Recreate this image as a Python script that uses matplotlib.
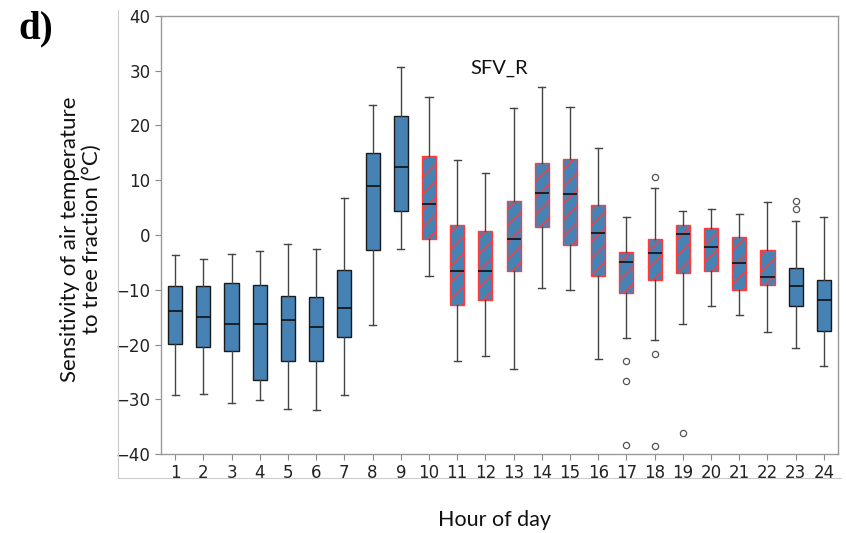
import matplotlib
matplotlib.use("Agg")
import matplotlib.pyplot as plt
from matplotlib.lines import Line2D

hours = list(range(1, 25))
q1 = [-19.9, -20.4, -21.2, -26.5, -23.1, -23.1, -18.6, -2.7, 4.4, -0.7, -12.8, -11.8,
      -6.5, 1.5, -1.8, -7.4, -10.6, -8.2, -6.9, -6.5, -10.1, -9.1, -13.0, -17.5]
med = [-13.9, -14.9, -16.2, -16.2, -15.5, -16.8, -13.4, 9.0, 12.4, 5.7, -6.6, -6.5,
       -0.7, 7.7, 7.4, 0.4, -5.0, -3.2, 0.1, -2.2, -5.1, -7.6, -9.3, -11.9]
q3 = [-9.3, -9.3, -8.8, -9.1, -11.1, -11.4, -6.4, 14.9, 21.8, 14.5, 1.8, 0.8,
      6.2, 13.2, 13.9, 5.4, -3.1, -0.7, 1.8, 1.2, -0.4, -2.8, -6.1, -8.3]
whislo = [-29.2, -29.0, -30.7, -30.2, -31.8, -32.0, -29.2, -16.4, -2.6, -7.5, -23.1, -22.1,
          -24.4, -9.7, -10.1, -22.6, -18.9, -19.2, -16.2, -13.0, -14.7, -17.8, -20.6, -24.0]
whishi = [-3.65, -4.3, -3.5, -2.9, -1.6, -2.6, 6.8, 23.7, 30.6, 25.2, 13.7, 11.3,
          23.2, 27.1, 23.4, 15.9, 3.3, 8.5, 4.3, 4.7, 3.8, 6.0, 2.6, 3.2]
fliers = {17: [-23.1, -26.7, -38.4], 18: [10.6, -21.7, -38.6], 19: [-36.1], 23: [6.2, 4.7]}
hatched_hours = list(range(10, 23))

stats = []
for i, h in enumerate(hours):
    stats.append(dict(med=med[i], q1=q1[i], q3=q3[i], whislo=whislo[i], whishi=whishi[i],
                      fliers=fliers.get(h, []), label=str(h)))

plt.rcParams['hatch.linewidth'] = 1.0
fig = plt.figure(figsize=(8.46, 5.33), dpi=100)
ax = fig.add_axes([161/846, 1-454/533, (838-161)/846, (454-16)/533])

bp = ax.bxp(stats, positions=hours, widths=0.5, patch_artist=True,
            boxprops=dict(facecolor="#4682b4", edgecolor="#1a1a1a", linewidth=1.0),
            medianprops=dict(color="#111111", linewidth=1.2),
            whiskerprops=dict(color="#444444", linewidth=1.0),
            capprops=dict(color="#444444", linewidth=1.0),
            flierprops=dict(marker="o", markersize=4.5, markerfacecolor="none",
                            markeredgecolor="#555555", markeredgewidth=0.9))
for h, box in zip(hours, bp["boxes"]):
    if h in hatched_hours:
        box.set_edgecolor("#ff3b3b")
        box.set_hatch("//")

ax.set_xlim(0.5, 24.5)
ax.set_ylim(-40, 40)
ax.set_yticks(range(-40, 41, 10))
ax.set_xticks(hours)
ax.set_xticklabels([str(h) for h in hours])
ax.tick_params(axis="both", labelsize=12, colors="#222222", length=4)
ax.tick_params(axis="both", color="#888888")
for s in ax.spines.values():
    s.set_color("#999999")
    s.set_linewidth(1.0)

fig.text(499/846, 1-68/533, "SFV_R", fontsize=14.5, family="Lato",
         ha="center", va="center", color="#111111")

fig.text(81/846, 1-239/533, "Sensitivity of air temperature\nto tree fraction (\u00b0C)",
         rotation=90, ha="center", va="center", fontsize=16, family="Lato",
         linespacing=1.1, color="#111111")
fig.text(494/846, 1-520/533, "Hour of day", ha="center", va="center",
         fontsize=15.5, family="Lato", color="#111111")
fig.text(18/846, 1-29/533, "d)", ha="left", va="center", fontsize=28,
         family="Liberation Serif", fontweight="bold", color="#000000")

# faint outer frame of the embedded image
fig.add_artist(Line2D([118/846, 118/846], [1-10/533, 1-478/533], color="#cccccc", lw=0.8))
fig.add_artist(Line2D([118/846, 841/846], [1-478/533, 1-478/533], color="#cccccc", lw=0.8))

fig.savefig("out.png", dpi=100)
